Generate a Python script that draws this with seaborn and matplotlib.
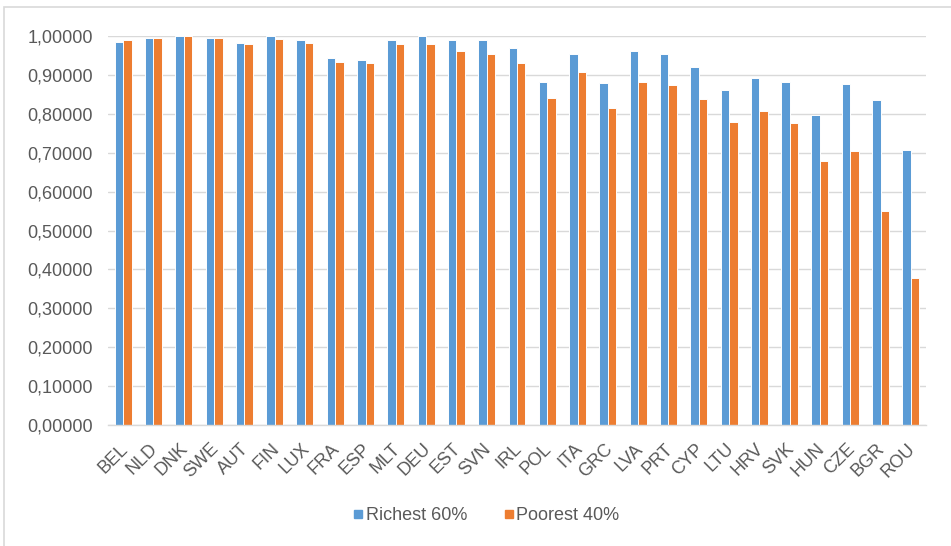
import matplotlib
matplotlib.use("Agg")
import matplotlib.pyplot as plt
import matplotlib.patches as mpatches
import matplotlib.transforms as mtransforms
from matplotlib.lines import Line2D
from matplotlib.ticker import FuncFormatter, MultipleLocator
import pandas as pd
import seaborn as sns

countries = ["BEL", "NLD", "DNK", "SWE", "AUT", "FIN", "LUX", "FRA", "ESP",
             "MLT", "DEU", "EST", "SVN", "IRL", "POL", "ITA", "GRC", "LVA",
             "PRT", "CYP", "LTU", "HRV", "SVK", "HUN", "CZE", "BGR", "ROU"]
richest_60 = [0.985, 0.995, 0.999, 0.995, 0.982, 0.999, 0.989, 0.943, 0.939,
              0.991, 0.999, 0.991, 0.989, 0.968, 0.883, 0.955, 0.880, 0.961,
              0.955, 0.920, 0.860, 0.893, 0.883, 0.798, 0.876, 0.836, 0.708]
poorest_40 = [0.989, 0.995, 0.999, 0.995, 0.979, 0.992, 0.982, 0.932, 0.930,
              0.979, 0.979, 0.962, 0.953, 0.930, 0.840, 0.907, 0.814, 0.883,
              0.873, 0.837, 0.778, 0.807, 0.777, 0.679, 0.705, 0.550, 0.379]
series_names = ["Richest 60%", "Poorest 40%"]
colors = ["#5B9BD5", "#ED7D31"]

df = pd.DataFrame({
    "country": countries * 2,
    "value": richest_60 + poorest_40,
    "group": [series_names[0]] * len(countries) + [series_names[1]] * len(countries),
})

sns.set_theme(style="white")
plt.rcParams["font.family"] = ["Liberation Sans", "DejaVu Sans"]
text_color = "#595959"
grid_color = "#D9D9D9"

fig = plt.figure(figsize=(9.51, 5.46), dpi=100)
ax = fig.add_axes([0.1136, 0.2216, 0.8601, 0.7124])

sns.barplot(data=df, x="country", y="value", hue="group", palette=colors,
            width=0.56, edgecolor="white", linewidth=0.7, ax=ax,
            legend=False, saturation=1)

ax.set_ylim(0, 1.0)
ax.set_xlim(-0.5, len(countries) - 0.5)
ax.yaxis.set_major_locator(MultipleLocator(0.1))
ax.yaxis.set_major_formatter(FuncFormatter(lambda v, _: f"{v:.5f}".replace(".", ",")))
ax.grid(axis="y", color=grid_color, linewidth=1.0)
ax.set_axisbelow(True)
for side in ["left", "right", "top"]:
    ax.spines[side].set_visible(False)
ax.spines["bottom"].set_color(grid_color)
ax.spines["bottom"].set_linewidth(1.0)
ax.set_xlabel("")
ax.set_ylabel("")
ax.tick_params(axis="y", length=0, pad=11, labelsize=13, labelcolor=text_color)
ax.tick_params(axis="x", length=0, pad=11, labelsize=13, labelcolor=text_color)
shift = mtransforms.ScaledTranslation(-3 / 72, 0, fig.dpi_scale_trans)
for lab in ax.get_xticklabels():
    lab.set_rotation(45)
    lab.set_ha("right")
    lab.set_va("top")
    lab.set_rotation_mode("anchor")
    lab.set_transform(lab.get_transform() + shift)

handles = [Line2D([0], [0], marker="s", linestyle="none", markersize=6,
                  markerfacecolor=c, markeredgecolor=c) for c in colors]
fig.legend(handles, series_names, loc="center", bbox_to_anchor=(0.51, 0.055),
           ncol=2, frameon=False, fontsize=13, labelcolor=text_color,
           handletextpad=0.0, columnspacing=1.9, handlelength=0.8)

# chart-area frame
fig.patches.append(mpatches.Rectangle((4 / 951, -0.1), 1.2, 1 - 7 / 546 + 0.1,
                                      transform=fig.transFigure, fill=False,
                                      edgecolor=grid_color, linewidth=1.2))

fig.savefig("out.png", dpi=100)
